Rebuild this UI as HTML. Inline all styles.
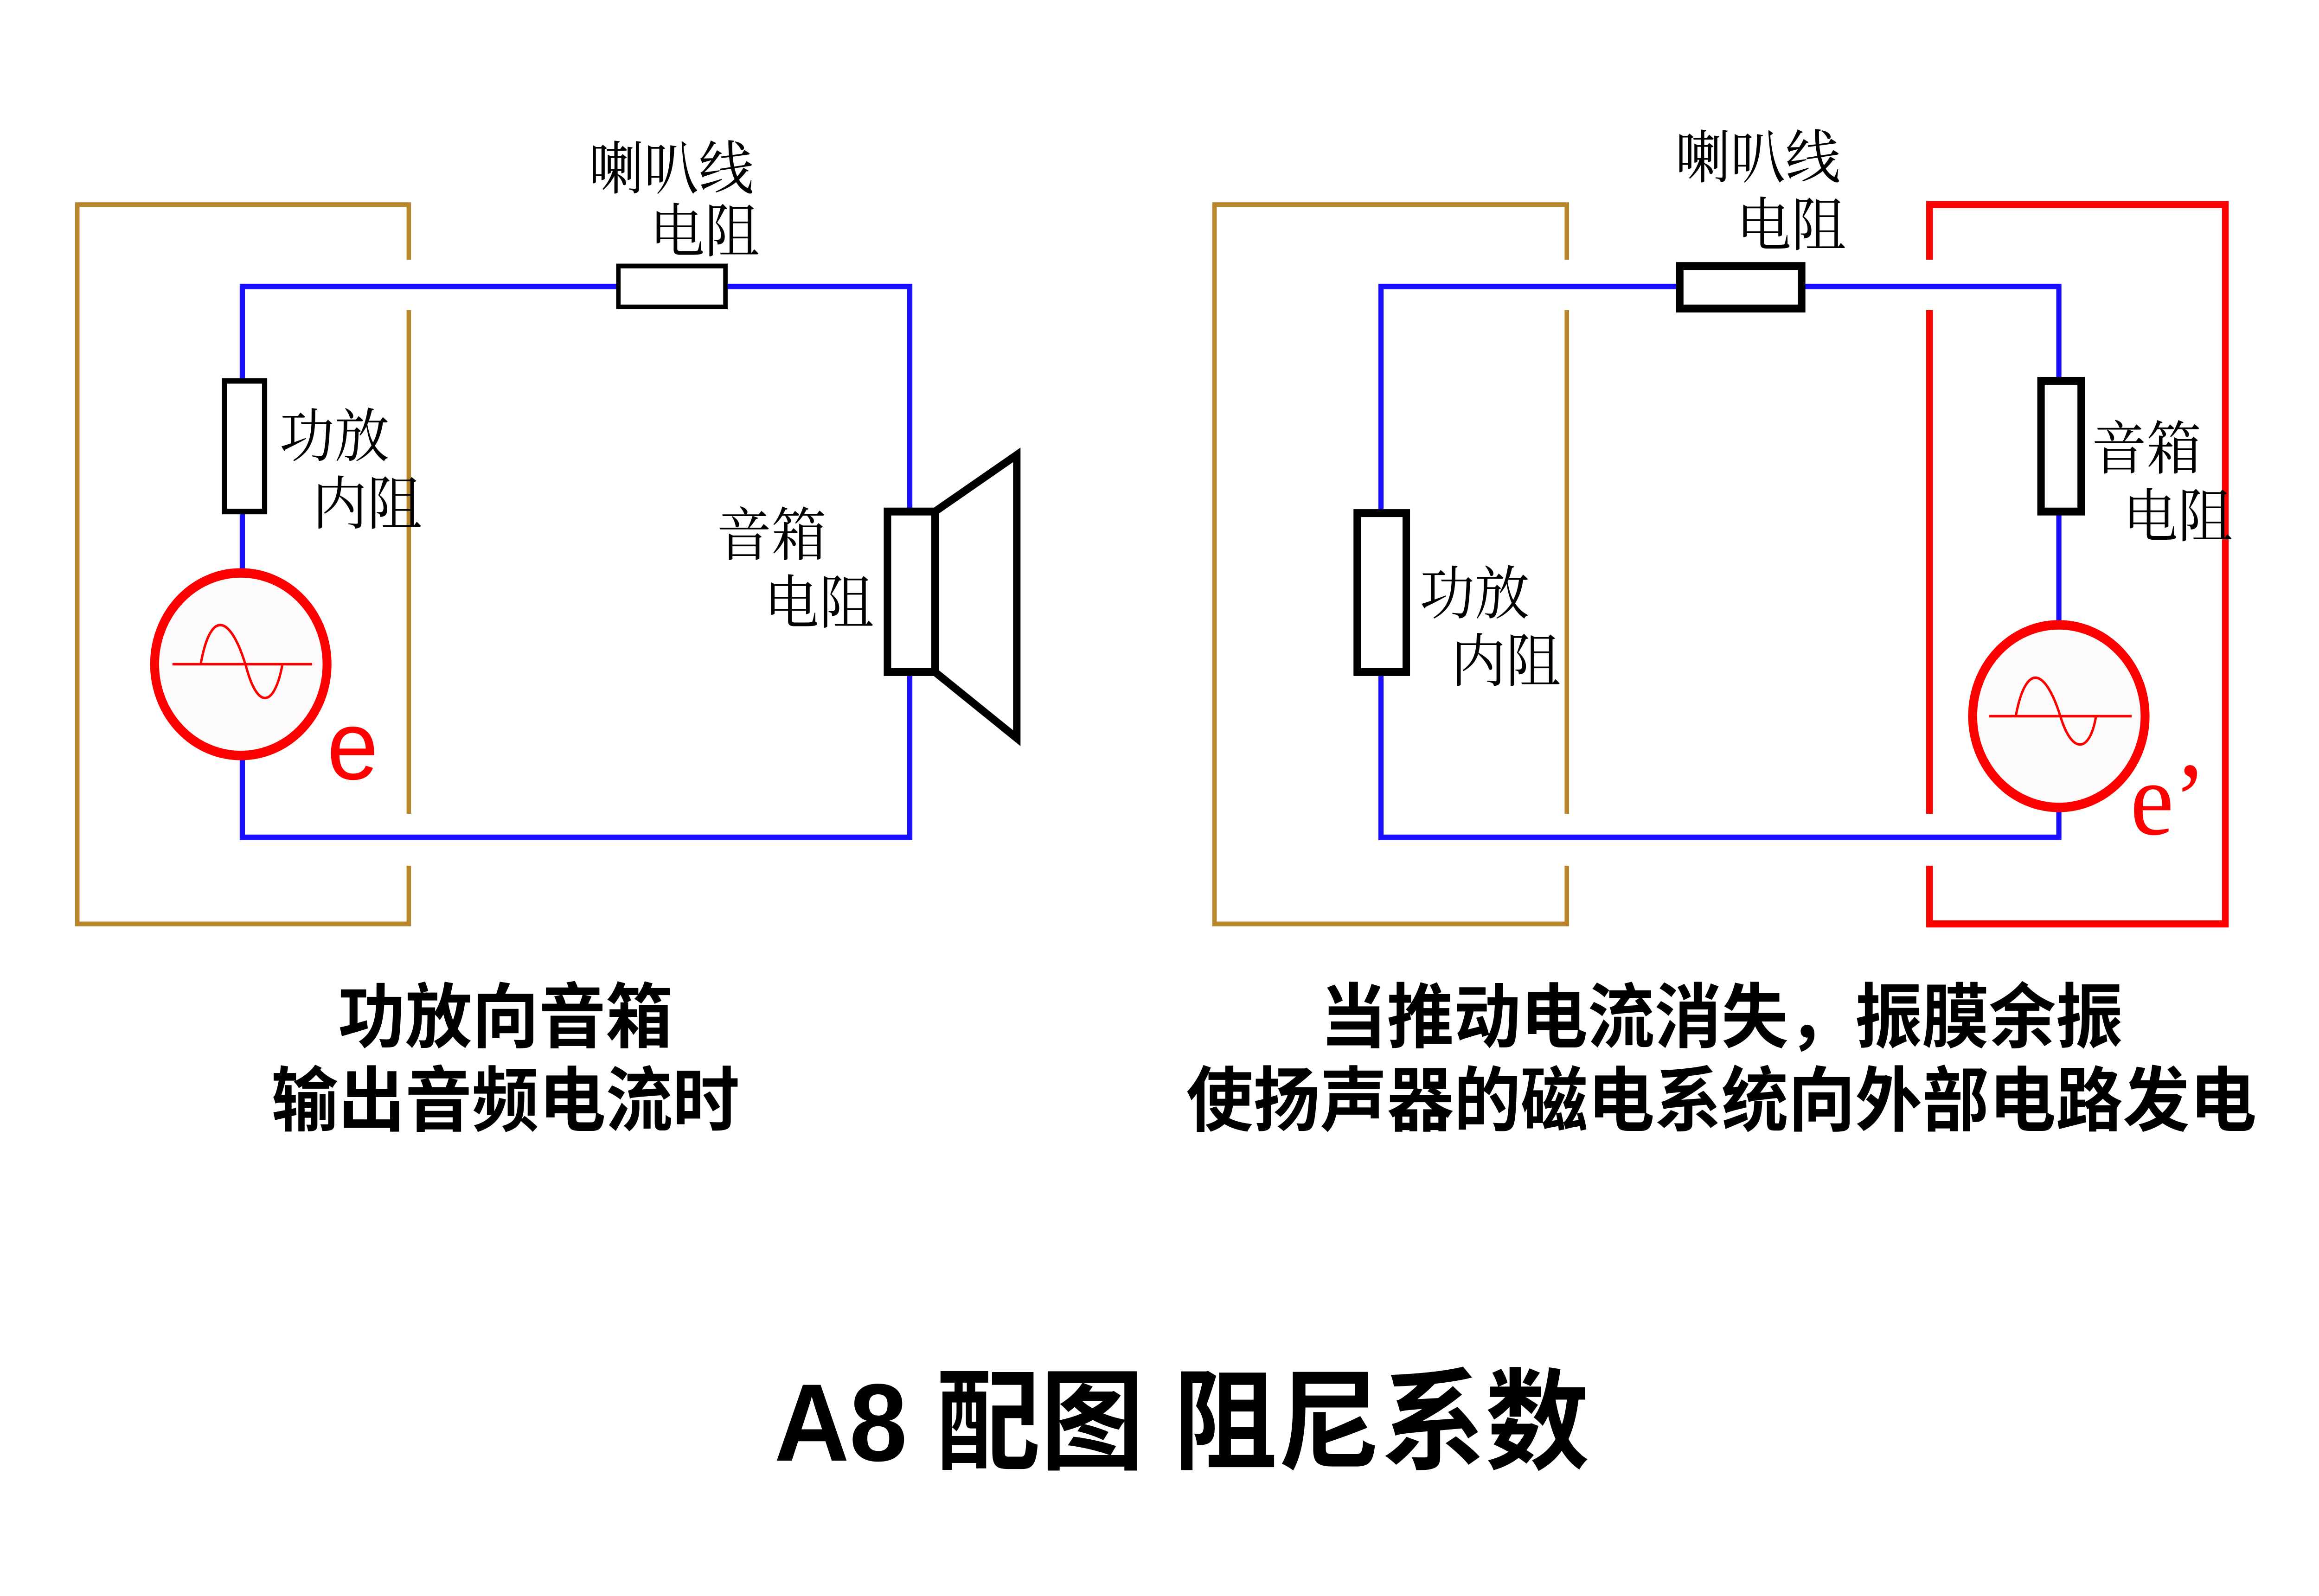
<!DOCTYPE html>
<html><head><meta charset="utf-8"><style>
html,body{margin:0;padding:0;background:#fff;width:100%;height:100%;overflow:hidden}
svg{display:block;width:100vw;height:100vh}
.lb{font-family:"Liberation Serif","Noto Serif CJK SC",serif;font-size:37px;fill:#000}
.cap{font-family:"Liberation Sans","Noto Sans CJK SC",sans-serif;font-size:45px;font-weight:bold;fill:#000}
</style></head><body>
<svg viewBox="0 0 1560 1014" preserveAspectRatio="none" xmlns="http://www.w3.org/2000/svg">
<rect width="1560" height="1014" fill="#fff"/>
<!-- LEFT -->
<g fill="none" stroke="#b8862b" stroke-width="3">
<polyline points="275,165 275,130 52,130 52,587 275,587 275,550"/>
<line x1="275" y1="197" x2="275" y2="517"/>
</g>
<g fill="none" stroke="#1a10ff" stroke-width="3.5">
<polyline points="416,182 163,182 163,532 612,532 612,182 488,182"/>
</g>
<rect x="416" y="169" width="72" height="26" fill="#fff" stroke="#000" stroke-width="3"/>
<rect x="151" y="242" width="27" height="83" fill="#fff" stroke="#000" stroke-width="3.5"/>
<circle cx="162" cy="422" r="58" fill="#fdfbfb" stroke="#f00" stroke-width="6"/>
<line x1="116" y1="422" x2="210" y2="422" stroke="#f00" stroke-width="1.6"/>
<path d="M135,422 C142,385 156,392 166,425 C174,452 185,448 190,422" fill="none" stroke="#f00" stroke-width="1.6"/>
<text x="220" y="495" font-family="Liberation Sans,sans-serif" font-size="62" fill="#f00">e</text>
<rect x="597" y="325" width="32" height="102" fill="#fff" stroke="#000" stroke-width="5"/>
<polyline points="629,325 684,289 684,469 629,427" fill="none" stroke="#000" stroke-width="5"/>
<text class="lb" x="396" y="120">喇叭线</text>
<text class="lb" x="437" y="160">电阻</text>
<text class="lb" x="188" y="290">功放</text>
<text class="lb" x="210" y="333">内阻</text>
<text class="lb" x="482" y="353">音箱</text>
<text class="lb" x="514" y="396">电阻</text>
<!-- RIGHT -->
<g fill="none" stroke="#b8862b" stroke-width="3">
<polyline points="1054,165 1054,130 817,130 817,587 1054,587 1054,550"/>
<line x1="1054" y1="197" x2="1054" y2="517"/>
</g>
<g fill="none" stroke="#f00" stroke-width="4.5">
<polyline points="1298,165 1298,130 1497,130 1497,587 1298,587 1298,550"/>
<line x1="1298" y1="197" x2="1298" y2="517"/>
</g>
<g fill="none" stroke="#1a10ff" stroke-width="3.5">
<polyline points="1130,182 929,182 929,532 1385,532 1385,182 1212,182"/>
</g>
<rect x="1130" y="169" width="82" height="27" fill="#fff" stroke="#000" stroke-width="5"/>
<rect x="913" y="326" width="33" height="101" fill="#fff" stroke="#000" stroke-width="5"/>
<rect x="1373" y="242" width="27" height="83" fill="#fff" stroke="#000" stroke-width="5"/>
<circle cx="1385" cy="455" r="58" fill="#fdfbfb" stroke="#f00" stroke-width="6"/>
<line x1="1338" y1="455" x2="1434" y2="455" stroke="#f00" stroke-width="1.6"/>
<path d="M1356,455 C1363,420 1376,425 1386,455 C1394,480 1406,478 1410,455" fill="none" stroke="#f00" stroke-width="1.6"/>
<text x="1433" y="530" font-family="Liberation Serif,serif" font-size="66" fill="#f00">e’</text>
<text class="lb" x="1127" y="113">喇叭线</text>
<text class="lb" x="1168" y="156">电阻</text>
<text class="lb" x="1407" y="298">音箱</text>
<text class="lb" x="1428" y="341">电阻</text>
<text class="lb" x="955" y="390">功放</text>
<text class="lb" x="976" y="433">内阻</text>
<!-- captions -->
<text class="cap" x="340" y="662" text-anchor="middle">功放向音箱</text>
<text class="cap" x="340" y="715" text-anchor="middle">输出音频电流时</text>
<text class="cap" x="1158" y="662" text-anchor="middle">当推动电流消失，振膜余振</text>
<text class="cap" x="1158" y="715" text-anchor="middle">使扬声器的磁电系统向外部电路发电</text>
<text x="795" y="928" text-anchor="middle" font-family="Liberation Sans,Noto Sans CJK SC,sans-serif" font-size="70" font-weight="bold" fill="#000">A8 配图 阻尼系数</text>
</svg>
</body></html>
